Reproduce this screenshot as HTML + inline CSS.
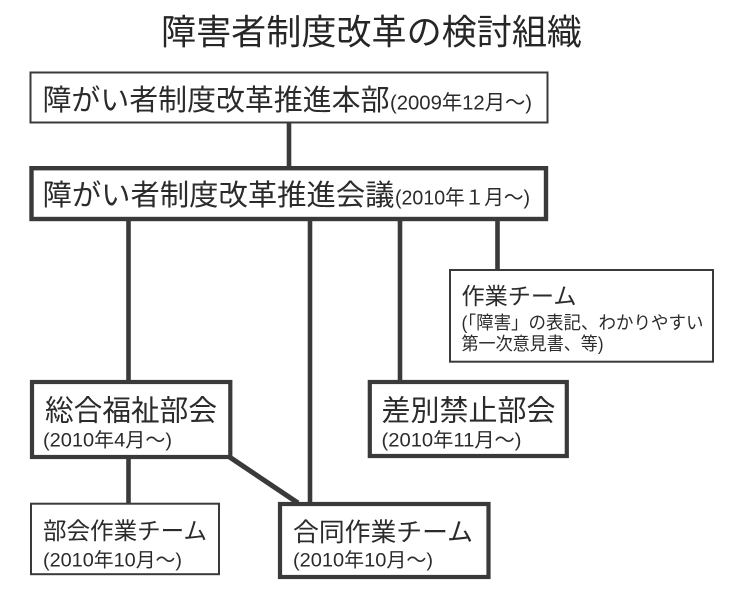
<!DOCTYPE html>
<html><head><meta charset="utf-8">
<style>
html,body{margin:0;padding:0;background:#fff;}
svg{display:block;}
text{font-family:"Liberation Sans","Noto Sans CJK JP",sans-serif;fill:#2b2b2b;}
</style></head>
<body>
<svg width="740" height="594" viewBox="0 0 740 594" xmlns="http://www.w3.org/2000/svg">
<rect width="740" height="594" fill="#fff"/>
<!-- title -->
<text x="161" y="44.5" font-size="35" textLength="421" lengthAdjust="spacingAndGlyphs" style="fill:#262626">障害者制度改革の検討組織</text>

<!-- connectors -->
<g stroke="#3a3a3a" stroke-width="4.6" fill="none">
<line x1="289" y1="123" x2="289" y2="167"/>
<line x1="128.5" y1="220" x2="128.5" y2="381"/>
<line x1="310" y1="220" x2="310" y2="504"/>
<line x1="400" y1="220" x2="400" y2="381"/>
<line x1="497.5" y1="220" x2="497.5" y2="270"/>
<line x1="128.5" y1="458" x2="128.5" y2="504"/>
<line x1="228" y1="456" x2="298" y2="503" stroke-width="5"/>
</g>

<!-- boxes -->
<g fill="#fff" stroke="#3a3a3a">
<rect x="30.5" y="72.5" width="517" height="50" stroke-width="2"/>
<rect x="31.5" y="168.2" width="514.5" height="50.8" stroke-width="4.4"/>
<rect x="450" y="270" width="263" height="91.7" stroke-width="2"/>
<rect x="32" y="382" width="198.3" height="75" stroke-width="4.2"/>
<rect x="369.8" y="382" width="197" height="74" stroke-width="4.2"/>
<rect x="31" y="503.7" width="188" height="70.5" stroke-width="2"/>
<rect x="280" y="504" width="208.5" height="73" stroke-width="4.2"/>
</g>

<!-- box 1 -->
<text x="42.5" y="110" font-size="29" textLength="347" lengthAdjust="spacingAndGlyphs">障がい者制度改革推進本部</text>
<text x="390" y="109.5" font-size="20.5" textLength="142" lengthAdjust="spacingAndGlyphs">(2009年12月～)</text>

<!-- box 2 -->
<text x="42.5" y="205" font-size="29" textLength="352" lengthAdjust="spacingAndGlyphs">障がい者制度改革推進会議</text>
<text x="395" y="204.5" font-size="20.5" textLength="135" lengthAdjust="spacingAndGlyphs">(2010年１月～)</text>

<!-- work team -->
<text x="461.5" y="304" font-size="23" textLength="115" lengthAdjust="spacingAndGlyphs">作業チーム</text>
<text x="461.5" y="329" font-size="18" textLength="242" lengthAdjust="spacingAndGlyphs">(「障害」の表記、わかりやすい</text>
<text x="461.5" y="350" font-size="18" textLength="142" lengthAdjust="spacingAndGlyphs">第一次意見書、等)</text>

<!-- 総合福祉部会 -->
<text x="45" y="420.5" font-size="29" textLength="172" lengthAdjust="spacingAndGlyphs">総合福祉部会</text>
<text x="43" y="446.5" font-size="19.5" textLength="129" lengthAdjust="spacingAndGlyphs">(2010年4月～)</text>

<!-- 差別禁止部会 -->
<text x="381.5" y="420.5" font-size="29" textLength="174" lengthAdjust="spacingAndGlyphs">差別禁止部会</text>
<text x="381.5" y="446.5" font-size="19.5" textLength="140" lengthAdjust="spacingAndGlyphs">(2010年11月～)</text>

<!-- 部会作業チーム -->
<text x="43" y="539" font-size="23.5" textLength="164" lengthAdjust="spacingAndGlyphs">部会作業チーム</text>
<text x="43" y="566.5" font-size="19.5" textLength="139" lengthAdjust="spacingAndGlyphs">(2010年10月～)</text>

<!-- 合同作業チーム -->
<text x="293" y="541" font-size="25.5" textLength="180" lengthAdjust="spacingAndGlyphs">合同作業チーム</text>
<text x="293" y="566.5" font-size="19.5" textLength="140" lengthAdjust="spacingAndGlyphs">(2010年10月～)</text>
</svg>
</body></html>
